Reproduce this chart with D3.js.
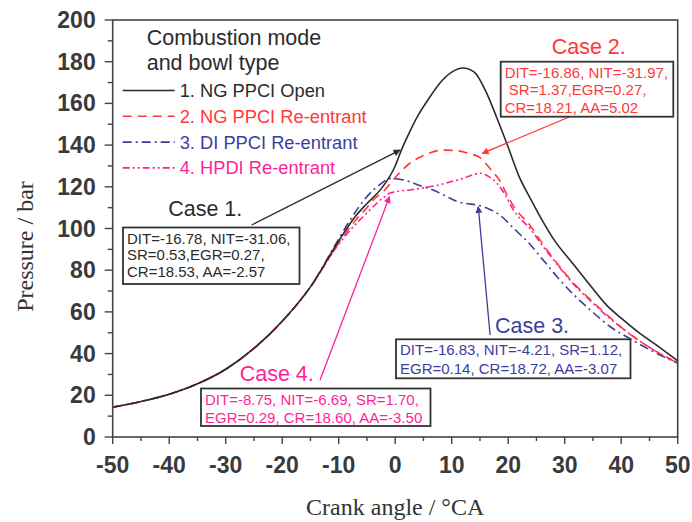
<!DOCTYPE html>
<html lang="en">
<head>
<meta charset="UTF-8">
<title>Pressure vs crank angle</title>
<script src="https://d3js.org/d3.v7.min.js"></script>
<style>
    body { margin: 0; background: #fff; }
    svg text { font-family: Arial, "Liberation Sans", sans-serif; }
    .tick-label { font-size: 23px; font-weight: bold; fill: #3a3a3a; }
    .axis-title { font-family: "Times New Roman", "Liberation Serif", serif !important; font-size: 24px; fill: #333; }
</style>
</head>
<body>
<div id="chart"></div>
<script>
// crank angle (deg) and cylinder pressure (bar)
const caseNames = ["1. NG PPCI Open", "2. NG PPCI Re-entrant", "3. DI PPCI Re-entrant", "4. HPDI Re-entrant"];

const commonAngle = [-50, -45, -40, -35, -30, -25, -20, -15];
const commonPressure = [14.3, 17, 20.5, 25.5, 32.5, 42.5, 55.5, 72];

const angle1 = [-10, -7, -5, -2.5, 0, 1, 2.5, 4, 6, 8, 10, 12, 14, 16, 18, 20, 22, 24, 26, 28, 31.5, 34, 37.5, 40, 43.3, 46, 50];
const pressure1 = [94, 106, 112, 119, 130, 137, 146, 154, 162.5, 170, 175, 177, 175, 166, 153, 139, 124.5, 114, 104, 95, 83, 74.5, 63, 57, 49.7, 44.5, 36.5];

const angle2 = [-10, -7, -5, -3.9, -2, 0, 2.6, 5, 8.5, 11, 13, 15, 17, 18.5, 20, 21, 24, 26, 28.6, 31.5, 34.5, 37.5, 40.5, 45, 50];
const pressure2 = [93, 104, 110, 113.7, 118, 124.5, 131.3, 135, 137.6, 137.3, 136, 134, 128, 123, 115, 110.5, 101, 93, 83.5, 74, 66, 58.5, 51.5, 43, 35.5];

const angle3 = [-10, -8, -5, -2.5, -1, 1, 2.6, 4.5, 6.7, 9, 10.9, 12.5, 14.4, 16.5, 18.5, 21, 24, 26, 28.6, 31.5, 34.5, 38, 42, 46, 50];
const pressure3 = [95, 104, 115.3, 121.5, 124, 123.5, 122.4, 120.5, 118.5, 115.5, 113, 112, 111.3, 109.5, 106.5, 100, 92, 85.5, 77, 68.5, 61, 53, 46.5, 40.5, 35.5];

const angle4 = [-10, -7, -5, -3.3, -2, -0.9, 1, 2.6, 5, 7.9, 10, 12, 14, 15, 16.5, 18, 19.5, 20.9, 24, 26, 28.6, 31.5, 34.5, 37.5, 40.5, 45, 50];
const pressure4 = [92.5, 102, 107.5, 112, 115, 117, 118, 118.5, 119.5, 121, 122.5, 124, 126, 126.5, 125, 121.7, 116, 109, 99.5, 92, 83, 73.5, 65.5, 58, 51.5, 43, 35.5];

const xTicks = [-50, -40, -30, -20, -10, 0, 10, 20, 30, 40, 50];
const yTicks = [0, 20, 40, 60, 80, 100, 120, 140, 160, 180, 200];

// annotation text and arrows (arrow ends in data units)
const caseLabels = ["Case 1.", "Case 2.", "Case 3.", "Case 4."];
const caseText = [
    ["DIT=-16.78, NIT=-31.06,", "SR=0.53,EGR=0.27,", "CR=18.53, AA=-2.57"],
    ["DIT=-16.86, NIT=-31.97,", " SR=1.37,EGR=0.27,", "CR=18.21, AA=5.02"],
    ["DIT=-16.83, NIT=-4.21, SR=1.12,", "EGR=0.14, CR=18.72, AA=-3.07"],
    ["DIT=-8.75, NIT=-6.69, SR=1.70,", "EGR=0.29, CR=18.60, AA=-3.50"]
];
const arrowFrom = [[-25.4, 101.7], [30.9, 153.6], [16.8, 48.9], [-13.3, 27.3]];
const arrowTo = [[0.85, 137.6], [15.4, 136], [14.7, 110.5], [-1.0, 115.3]];

const colors = ["#2b2b2b", "#ff3838", "#3d3d9e", "#ff1f9a"];
const dashes = [null, "9,6", "9,4,2,4", "7,3,2,3,2,3"];

const width = 692, height = 522;
const margin = { top: 20, right: 14.3, bottom: 85, left: 112.7 };
const W = width - margin.left - margin.right;
const H = height - margin.top - margin.bottom;

const svg = d3.select("#chart").append("svg")
    .attr("width", width)
    .attr("height", height);

const g = svg.append("g").attr("transform", `translate(${margin.left},${margin.top})`);

const x = d3.scaleLinear().domain([-50, 50]).range([0, W]);
const y = d3.scaleLinear().domain([0, 200]).range([H, 0]);

// arrow markers
const defs = svg.append("defs");
colors.forEach((c, i) => {
    defs.append("marker")
        .attr("id", "arrow" + i)
        .attr("viewBox", "0 0 10 10")
        .attr("refX", 9).attr("refY", 5)
        .attr("markerWidth", 9).attr("markerHeight", 7)
        .attr("markerUnits", "userSpaceOnUse")
        .attr("orient", "auto")
        .append("path")
        .attr("d", "M0,0 L10,5 L0,10 z")
        .attr("fill", c);
});

// frame
g.append("rect")
    .attr("width", W).attr("height", H)
    .attr("fill", "none")
    .attr("stroke", "#444")
    .attr("stroke-width", 1.6);

// ticks
const xAxis = g.append("g").attr("transform", `translate(0,${H})`);
d3.range(-50, 51, 5).forEach(v => {
    const major = v % 10 === 0;
    xAxis.append("line")
        .attr("x1", x(v)).attr("x2", x(v))
        .attr("y1", 0).attr("y2", major ? 7 : 4)
        .attr("stroke", "#444").attr("stroke-width", 1.4);
});
xAxis.selectAll("text.tick-label")
    .data(xTicks)
    .enter().append("text")
    .attr("class", "tick-label")
    .attr("x", d => x(d))
    .attr("y", 36)
    .attr("text-anchor", "middle")
    .text(d => d);

const yAxis = g.append("g");
d3.range(0, 201, 10).forEach(v => {
    const major = v % 20 === 0;
    yAxis.append("line")
        .attr("x1", major ? -8 : -5).attr("x2", 0)
        .attr("y1", y(v)).attr("y2", y(v))
        .attr("stroke", "#444").attr("stroke-width", 1.4);
});
yAxis.selectAll("text.tick-label")
    .data(yTicks)
    .enter().append("text")
    .attr("class", "tick-label")
    .attr("x", -17)
    .attr("y", d => y(d) + 8)
    .attr("text-anchor", "end")
    .text(d => d);

// axis titles
svg.append("text")
    .attr("class", "axis-title")
    .attr("x", margin.left + W / 2)
    .attr("y", 515)
    .attr("text-anchor", "middle")
    .text("Crank angle / \u00B0CA");

svg.append("text")
    .attr("class", "axis-title")
    .attr("transform", `translate(33,${margin.top + H / 2 + 18}) rotate(-90)`)
    .attr("text-anchor", "middle")
    .text("Pressure / bar");

// curves
const seriesAngles = [angle1, angle2, angle3, angle4];
const seriesPressures = [pressure1, pressure2, pressure3, pressure4];

const line = d3.line()
    .x(d => x(d[0]))
    .y(d => y(d[1]))
    .curve(d3.curveMonotoneX);

// draw in reverse so the solid line sits on top
[3, 2, 1, 0].forEach(i => {
    const pts = commonAngle.map((a, k) => [a, commonPressure[k]])
        .concat(seriesAngles[i].map((a, k) => [a, seriesPressures[i][k]]));
    g.append("path")
        .datum(pts)
        .attr("d", line)
        .attr("fill", "none")
        .attr("stroke", colors[i])
        .attr("stroke-width", 1.6)
        .attr("stroke-dasharray", dashes[i]);
});

// legend
const legend = g.append("g");
legend.append("text")
    .attr("x", 34).attr("y", 25)
    .attr("font-size", 21.5)
    .attr("fill", "#2b2b2b")
    .text("Combustion mode");
legend.append("text")
    .attr("x", 34).attr("y", 50)
    .attr("font-size", 21.5)
    .attr("fill", "#2b2b2b")
    .text("and bowl type");

caseNames.forEach((name, i) => {
    const row = legend.append("g")
        .attr("transform", `translate(0, ${70.5 + i * 25.8})`);
    row.append("line")
        .attr("x1", 10).attr("x2", 62)
        .attr("y1", 0).attr("y2", 0)
        .attr("stroke", colors[i])
        .attr("stroke-width", 1.6)
        .attr("stroke-dasharray", dashes[i]);
    row.append("text")
        .attr("x", 67).attr("y", 6.5)
        .attr("font-size", 18.3)
        .attr("fill", colors[i])
        .text(name);
});

// annotation boxes
const boxes = [
    { left: 10.3, top: 207.5, w: 176.5, h: 56.5, lh: 16.8, labelX: 55.5, labelY: 196 },
    { left: 388, top: 41.7, w: 172.6, h: 55, lh: 17.5, labelX: 439, labelY: 33.5 },
    { left: 283.3, top: 319.3, w: 234.5, h: 39, lh: 18.4, labelX: 382.3, labelY: 313.3 },
    { left: 88.3, top: 368.5, w: 229.5, h: 37.5, lh: 18, labelX: 127, labelY: 361 }
];

boxes.forEach((b, i) => {
    const c = i === 0 ? "#2b2b2b" : colors[i];
    g.append("line")
        .attr("x1", x(arrowFrom[i][0])).attr("y1", y(arrowFrom[i][1]))
        .attr("x2", x(arrowTo[i][0])).attr("y2", y(arrowTo[i][1]))
        .attr("stroke", c)
        .attr("stroke-width", 1.3)
        .attr("marker-end", `url(#arrow${i})`);

    g.append("rect")
        .attr("x", b.left).attr("y", b.top)
        .attr("width", b.w).attr("height", b.h)
        .attr("fill", "#fff")
        .attr("stroke", "#333")
        .attr("stroke-width", 1.8);

    caseText[i].forEach((t, k) => {
        g.append("text")
            .attr("x", b.left + 4)
            .attr("y", b.top + 16 + k * b.lh)
            .attr("font-size", 15)
            .attr("fill", c)
            .attr("xml:space", "preserve")
            .text(t);
    });

    g.append("text")
        .attr("x", b.labelX).attr("y", b.labelY)
        .attr("font-size", 21.5)
        .attr("fill", c)
        .text(caseLabels[i]);
});
</script>
</body>
</html>
